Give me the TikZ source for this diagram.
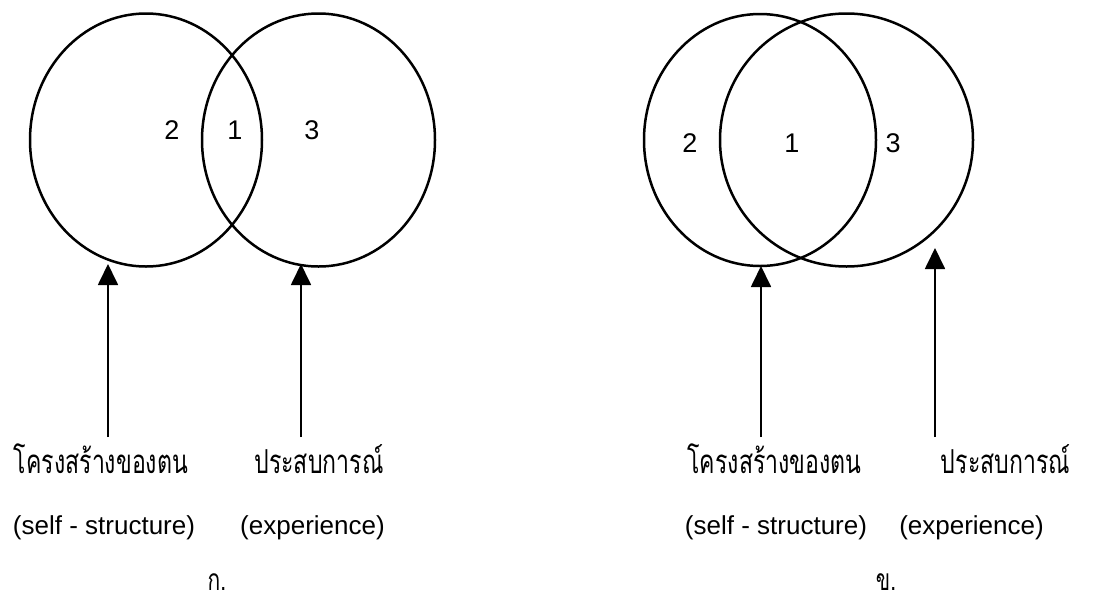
\documentclass[tikz,border=0pt]{standalone}
\usepackage{fontspec}
\setmainfont{Liberation Sans}
\newfontfamily\thaifont[Script=Thai, FakeStretch=0.7]{Loma}
\usetikzlibrary{arrows.meta}

\begin{document}
\begin{tikzpicture}[
    x=1pt, y=-1pt,
    font=\fontsize{26}{30}\selectfont,
    ring/.style={draw, line width=2.5pt},
    pointer/.style={-{Triangle[length=21pt, width=20pt]}, line width=1.8pt},
    thai/.style={anchor=base, inner sep=0pt, font=\thaifont\fontsize{33}{38}\selectfont},
    caption/.style={inner sep=0pt, font=\thaifont\fontsize{30}{34}\selectfont},
    eng/.style={anchor=base, inner sep=0pt},
    num/.style={inner sep=0pt, font=\fontsize{27}{30}\selectfont}
]

\useasboundingbox (0,0) rectangle (1093,603);

\def\low{437}

% Panel ko: circles just touching in a narrow lens
\draw[ring] (146,140) ellipse [x radius=116, y radius=126.5];
\draw[ring] (318.5,140) ellipse [x radius=116.5, y radius=126.5];
\node[num] (a2) at (172,130) {2};
\node[num] (a1) at (235,130) {1};
\node[num] (a3) at (312,130) {3};

\coordinate (ta) at (108,264);
\coordinate (tb) at (301,264);
\coordinate (sa) at (108,\low);
\coordinate (sb) at (301,\low);
\draw[pointer] (sa) -- (ta);
\draw[pointer] (sb) -- (tb);

\node[thai] (selfA) at (101,473) {โครงสร้างของตน};
\node[thai] (expA) at (319,473) {ประสบการณ์};
\node[eng] (selfAen) at (104,534) {(self - structure)};
\node[eng] (expAen) at (312.5,534) {(experience)};
\node[caption] (capA) at (217,582) {ก.};

% Panel kho: wide overlap
\draw[ring] (760,140) ellipse [x radius=116, y radius=126];
\draw[ring] (846.5,140) circle [radius=126.5];
\node[num] (b2) at (690,143) {2};
\node[num] (b1) at (792,143) {1};
\node[num] (b3) at (893,143) {3};

\coordinate (tc) at (761,266);
\coordinate (td) at (935,248);
\coordinate (sc) at (761,\low);
\coordinate (sd) at (935,\low);
\draw[pointer] (sc) -- (tc);
\draw[pointer] (sd) -- (td);

\node[thai] (selfB) at (774.5,473) {โครงสร้างของตน};
\node[thai] (expB) at (1005.5,473) {ประสบการณ์};
\node[eng] (selfBen) at (776,534) {(self - structure)};
\node[eng] (expBen) at (971.5,534) {(experience)};
\node[caption] (capB) at (886,582) {ข.};

\end{tikzpicture}
\end{document}
